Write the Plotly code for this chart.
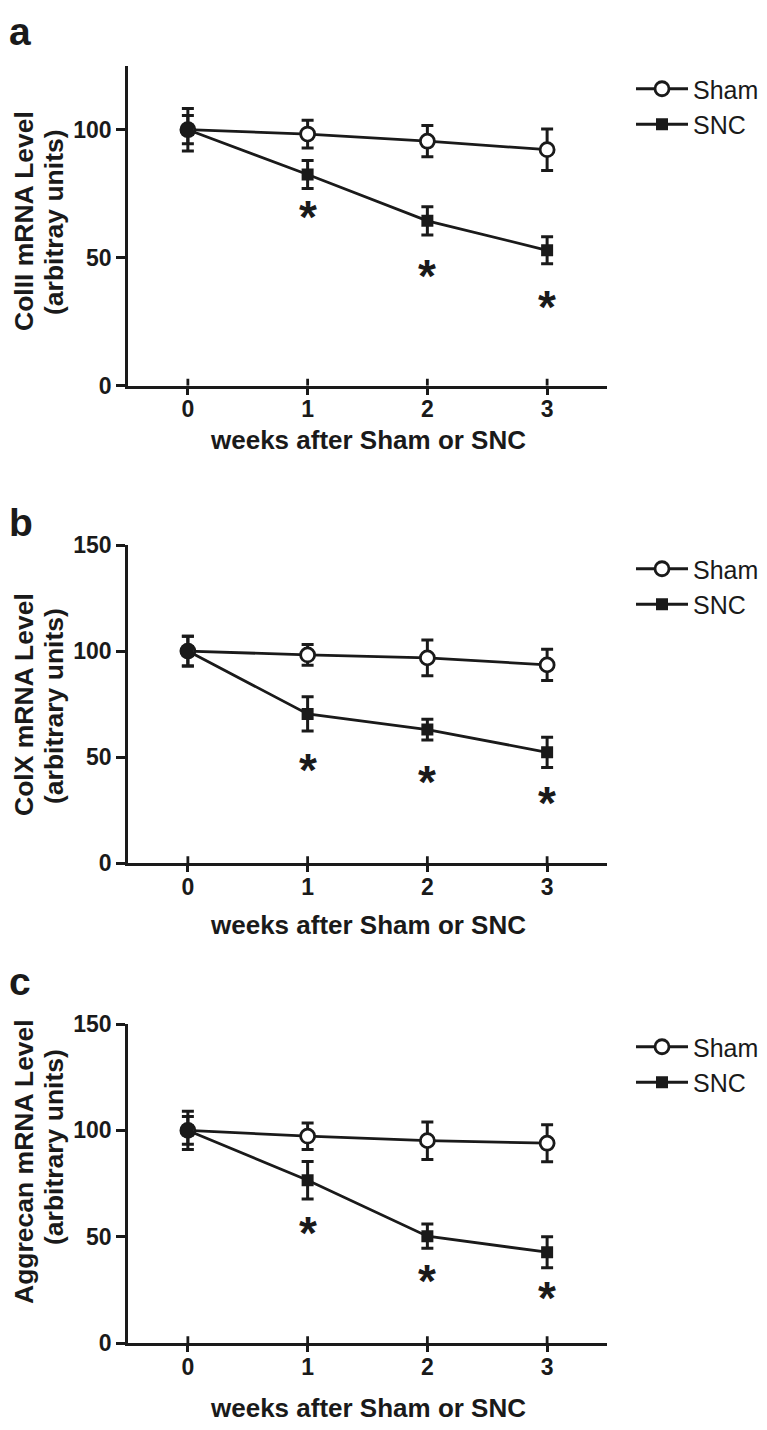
import plotly.graph_objects as go

W, H = 767, 1430

# ---------------- data ----------------
weeks = [0, 1, 2, 3]
week_labels = ["0", "1", "2", "3"]

sham_a = [100, 98.3, 95.5, 92.2]
sham_a_err = [8.3, 5.4, 6.1, 8.1]
snc_a = [100, 82.5, 64.4, 52.9]
snc_a_err = [5.5, 5.5, 5.5, 5.3]
star_a = [69.5, 46.5, 34.2]

sham_b = [100, 98.2, 96.8, 93.5]
sham_b_err = [7.0, 4.9, 8.4, 7.4]
snc_b = [100, 70.4, 63.0, 52.3]
snc_b_err = [7.0, 8.1, 4.9, 7.1]
star_b = [48.4, 42.4, 32.7]

sham_c = [100, 97.3, 95.2, 94.0]
sham_c_err = [9.0, 6.2, 8.8, 8.7]
snc_c = [100, 76.6, 50.3, 42.8]
snc_c_err = [6.5, 8.8, 5.7, 7.3]
star_c = [56.0, 33.6, 25.4]

ytitles_1 = ["ColII mRNA Level", "ColX mRNA Level", "Aggrecan mRNA Level"]
ytitles_2 = ["(arbitray units)", "(arbitrary units)", "(arbitrary units)"]
xtitle = "weeks after Sham or SNC"
panel_letters = ["a", "b", "c"]
yticks_a = [0, 50, 100]
yticks_bc = [0, 50, 100, 150]

# ---------------- layout helpers ----------------
OFF = 8  # page offset of the plot div inside the browser window

def px_x(p):
    return (p - OFF) / W

def px_y(p):
    return 1 - (p - OFF) / H

FONT = "Liberation Sans, Arial, sans-serif"
BLACK = "#1a1a1a"
LW = 2.8

panels = [
    dict(sham=sham_a, sham_err=sham_a_err, snc=snc_a, snc_err=snc_a_err, stars=star_a,
         ymax=125, yticks=yticks_a, top=65.7, bottom=385.7,
         leg_top=66, ytitle_c=221, ytitle_c2=222, xtitle_y=440, letter_top=8),
    dict(sham=sham_b, sham_err=sham_b_err, snc=snc_b, snc_err=snc_b_err, stars=star_b,
         ymax=150, yticks=yticks_bc, top=545, bottom=863.3,
         leg_top=546, ytitle_c=705, ytitle_c2=706, xtitle_y=925, letter_top=499),
    dict(sham=sham_c, sham_err=sham_c_err, snc=snc_c, snc_err=snc_c_err, stars=star_c,
         ymax=150, yticks=yticks_bc, top=1024, bottom=1343.3,
         leg_top=1024, ytitle_c=1162, ytitle_c2=1147, xtitle_y=1408, letter_top=958),
]

X_LEFT, X_RIGHT = 128, 607

fig = go.Figure()
annotations = []
shapes = []

for i, p in enumerate(panels):
    n = "" if i == 0 else str(i + 1)
    xa, ya = "x" + n, "y" + n
    leg = "legend" + n

    fig.add_trace(go.Scatter(
        x=weeks, y=p["sham"], xaxis=xa, yaxis=ya, name="Sham", legend=leg,
        mode="lines+markers",
        line=dict(color=BLACK, width=LW),
        marker=dict(symbol="circle", size=14, color="white",
                    line=dict(color=BLACK, width=LW)),
        error_y=dict(type="data", array=p["sham_err"], visible=True,
                     color=BLACK, thickness=3, width=6),
    ))
    fig.add_trace(go.Scatter(
        x=weeks, y=p["snc"], xaxis=xa, yaxis=ya, name="SNC", legend=leg,
        mode="lines+markers",
        line=dict(color=BLACK, width=LW),
        marker=dict(symbol="square", size=12, color=BLACK,
                    line=dict(color=BLACK, width=0)),
        error_y=dict(type="data", array=p["snc_err"], visible=True,
                     color=BLACK, thickness=3, width=6),
    ))

    axis_common = dict(
        showgrid=False, zeroline=False, showline=True, linecolor=BLACK, linewidth=LW,
        ticks="outside", tickcolor=BLACK, tickwidth=LW, automargin=False,
        tickfont=dict(family=FONT, size=23, color=BLACK, weight="bold"),
    )
    fig.update_layout(**{
        ("xaxis" + n): dict(
            domain=[px_x(X_LEFT), px_x(X_RIGHT)], range=[-0.5, 3.5],
            tickmode="array", tickvals=weeks, ticktext=week_labels,
            ticklen=6, anchor=ya, ticklabelstandoff=-5, **axis_common),
        ("yaxis" + n): dict(
            domain=[px_y(p["bottom"]), px_y(p["top"])], range=[0, p["ymax"]],
            tickmode="array", tickvals=p["yticks"], ticklen=9, anchor=xa,
            **axis_common),
        leg: dict(
            x=px_x(631), y=px_y(p["leg_top"]), xanchor="left", yanchor="top",
            font=dict(family=FONT, size=25, color=BLACK),
            bgcolor="rgba(0,0,0,0)", itemwidth=52, tracegroupgap=0,
        ),
    })

    # x ticks crossing into the plot area
    for w in weeks:
        shapes.append(dict(type="line", xref=xa, yref=ya, x0=w, x1=w,
                           ysizemode="pixel", yanchor=0, y0=0, y1=7,
                           line=dict(color=BLACK, width=LW)))

    # significance asterisks
    for w, s in zip(weeks[1:], p["stars"]):
        annotations.append(dict(x=w, y=s, xref=xa, yref=ya, text="*", showarrow=False,
                                font=dict(family=FONT, size=46, color=BLACK, weight="bold"),
                                xanchor="center", yanchor="middle", yshift=-9))

    # axis titles
    annotations.append(dict(x=px_x(24), y=px_y(p["ytitle_c"]), xref="paper", yref="paper",
                            text=ytitles_1[i], textangle=-90, showarrow=False,
                            font=dict(family=FONT, size=26.5, color=BLACK, weight="bold"),
                            xanchor="center", yanchor="middle"))
    annotations.append(dict(x=px_x(54), y=px_y(p["ytitle_c2"]), xref="paper", yref="paper",
                            text=ytitles_2[i], textangle=-90, showarrow=False,
                            font=dict(family=FONT, size=26.5, color=BLACK, weight="bold"),
                            xanchor="center", yanchor="middle"))
    annotations.append(dict(x=px_x((X_LEFT + X_RIGHT) / 2), y=px_y(p["xtitle_y"]),
                            xref="paper", yref="paper", text=xtitle, showarrow=False,
                            font=dict(family=FONT, size=26, color=BLACK, weight="bold"),
                            xanchor="center", yanchor="middle"))
    # panel letter
    annotations.append(dict(x=px_x(7), y=px_y(p["letter_top"]), xref="paper", yref="paper",
                            text=panel_letters[i], showarrow=False,
                            font=dict(family=FONT, size=39, color=BLACK, weight="bold"),
                            xanchor="left", yanchor="top"))

fig.update_layout(
    width=W, height=H, autosize=False,
    margin=dict(l=0, r=0, t=0, b=0, pad=0, autoexpand=False),
    paper_bgcolor="white", plot_bgcolor="white",
    showlegend=True,
    annotations=annotations, shapes=shapes,
)

fig.write_html("out.html")
